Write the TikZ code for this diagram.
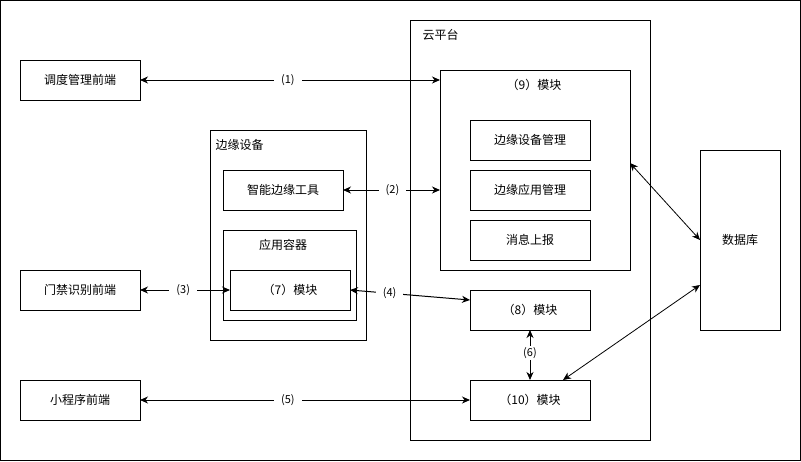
\documentclass[tikz,border=0pt]{standalone}
\usepackage{fontspec}
\setmainfont{Noto Sans CJK SC}
\usetikzlibrary{arrows.meta}
\begin{document}
\begin{tikzpicture}[x=1pt,y=-1pt,line width=1pt,
  font=\fontsize{12}{14}\selectfont,
  box/.style={draw,rectangle,inner sep=0pt,outer sep=0pt,minimum width=120pt,minimum height=40pt},
  frame/.style={draw,rectangle,inner sep=0pt,outer sep=0pt},
  conn/.style={{Stealth[length=8pt,width=7pt,inset=2.5pt]}-{Stealth[length=8pt,width=7pt,inset=2.5pt]}},
  lbl/.style={fill=white,inner xsep=7pt,inner ysep=1pt,font=\fontsize{11}{13}\selectfont}]
\useasboundingbox (0,0) rectangle (801,461);
\draw (0.5,0.5) rectangle (800,460);

% left fronts
\node[box] (tiaodu) at (80,80) {调度管理前端};
\node[box] (menjin) at (80,290) {门禁识别前端};
\node[box] (xcx) at (80,400) {小程序前端};

% edge device
\node[frame,minimum width=156pt,minimum height=210pt] (edge) at (288,235) {};
\node[anchor=west,inner sep=0pt] (edgelbl) at (215,145) {边缘设备};
\node[box] (tool) at (283,190) {智能边缘工具};
\node[frame,minimum width=133pt,minimum height=90pt] (appc) at (289.5,275) {};
\node[inner sep=0pt] (appclbl) at (283,245) {应用容器};
\node[box] (m7) at (290,290) {（7）模块};

% cloud
\node[frame,minimum width=240pt,minimum height=420pt] (cloud) at (530,230) {};
\node[anchor=west,inner sep=0pt] (cloudlbl) at (422,35) {云平台};
\node[frame,minimum width=190pt,minimum height=200pt] (m9) at (535,170) {};
\node[inner sep=0pt] (m9lbl) at (534,85) {（9）模块};
\node[box] (em) at (530,140) {边缘设备管理};
\node[box] (am) at (530,190) {边缘应用管理};
\node[box] (msg) at (530,240) {消息上报};
\node[box] (m8) at (530,310) {（8）模块};
\node[box] (m10) at (530,400) {（10）模块};

% database
\node[frame,minimum width=80pt,minimum height=180pt] (db) at (740,240) {数据库};

% connectors
\draw[conn] (tiaodu.east) -- node[lbl,pos=0.493] {(1)} (m9.west |- tiaodu.east);
\draw[conn] (tool.east) -- node[lbl,pos=0.51] {(2)} (tool.east -| m9.west);
\draw[conn] (menjin.east) -- node[lbl,pos=0.48] {(3)} (m7.west);
\draw[conn] (m7.east) -- node[lbl,pos=0.33] {(4)} ([yshift=10pt]m8.west);
\draw[conn] (xcx.east) -- node[lbl,pos=0.448] {(5)} (m10.west);
\draw[conn] (m8.south) -- node[lbl,inner xsep=1pt,pos=0.46] {(6)} (m10.north);
\draw[conn,line width=0.8pt] ([yshift=7pt]m9.east) -- (db.west);
\draw[conn,line width=0.8pt] ([xshift=33pt]m10.north) -- ([yshift=-45pt]db.west);
\end{tikzpicture}
\end{document}
